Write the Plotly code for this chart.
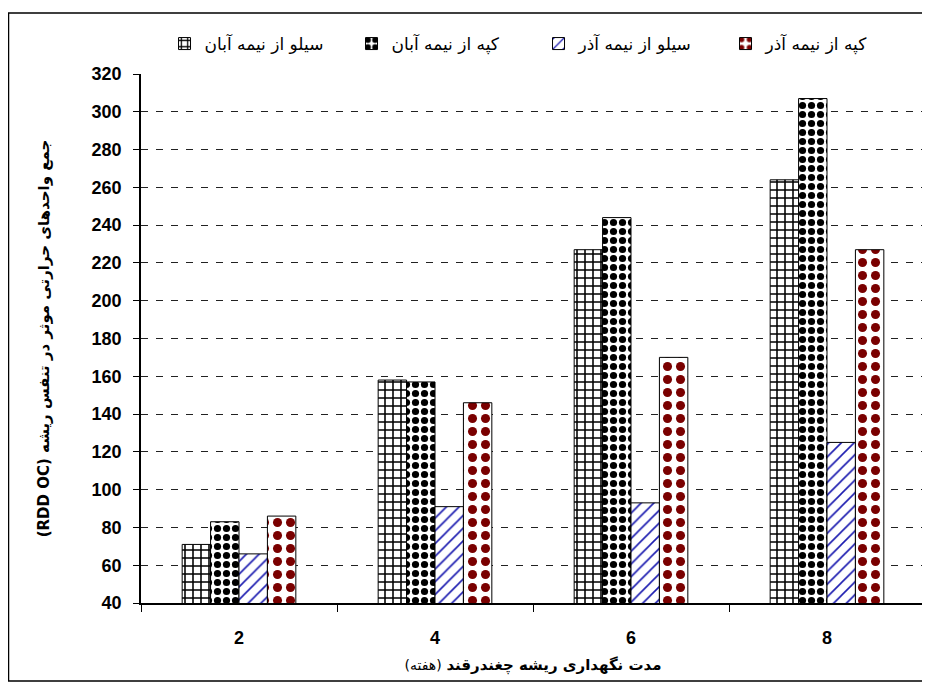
import plotly.graph_objects as go

weeks = ["2", "4", "6", "8"]
series_names = ["سیلو از نیمه آبان", "کپه از نیمه آبان", "سیلو از نیمه آذر", "کپه از نیمه آذر"]
silo_aban = [71, 158, 227, 264]
kapeh_aban = [83, 157, 244, 307]
silo_azar = [66, 91, 93, 125]
kapeh_azar = [86, 146, 170, 227]
y_ticks = list(range(40, 321, 20))

series_values = [silo_aban, kapeh_aban, silo_azar, kapeh_azar]
patterns = [
    dict(shape="+", fgcolor="black", bgcolor="white", size=8, solidity=0.35, fgopacity=1, fillmode="replace"),
    dict(shape=".", fgcolor="black", bgcolor="white", size=9, solidity=0.5, fgopacity=1, fillmode="replace"),
    dict(shape="/", fgcolor="#1c1cb0", bgcolor="white", size=9, solidity=0.18, fgopacity=1, fillmode="replace"),
    dict(shape=".", fgcolor="#7a0000", bgcolor="white", size=13, solidity=0.38, fgopacity=1, fillmode="replace"),
]

fig = go.Figure()
for name, vals, pat in zip(series_names, series_values, patterns):
    fig.add_trace(go.Bar(
        x=weeks, y=vals, name=name,
        marker=dict(color="white", pattern=pat, line=dict(color="black", width=1)),
    ))

fig.update_layout(
    width=930, height=682,
    barmode="group", bargap=0.42, bargroupgap=0,
    plot_bgcolor="white", paper_bgcolor="white",
    margin=dict(l=133, r=13, t=66, b=87),
    showlegend=True,
    legend=dict(
        orientation="h", traceorder="normal",
        x=0.03, xanchor="left", y=1.0567, yanchor="middle",
        font=dict(family="DejaVu Sans", size=17, color="black"),
        entrywidth=142,
        bgcolor="rgba(0,0,0,0)",
    ),
    font=dict(family="Liberation Sans", color="black"),
)

fig.update_yaxes(
    range=[40, 320], tickvals=y_ticks,
    showgrid=True, gridcolor="#222222", griddash="7px,8px", gridwidth=1,
    showline=True, linecolor="black", linewidth=1.5,
    ticks="outside", ticklen=6, tickcolor="black",
    tickfont=dict(family="Liberation Sans", size=18, weight="bold", color="black"),
    ticklabelstandoff=8,
    zeroline=False,
    title=dict(
        text="\u202Bجمع واحدهای حرارتی موثر در تنفس ریشه (RDD OC)\u202C",
        font=dict(family="DejaVu Sans", size=15, weight="bold", color="black"),
        standoff=38,
    ),
    automargin=False,
)

fig.update_xaxes(
    showline=True, linecolor="black", linewidth=1.5,
    ticks="outside", ticklen=7, tickcolor="black", tickson="boundaries",
    tickfont=dict(family="Liberation Sans", size=18, weight="bold", color="black"),
    ticklabelstandoff=18,
    title=dict(
        text='<b>مدت نگهداری ریشه چغندرقند</b> <span style="font-size:14px">(هفته)\u200F</span>',
        font=dict(family="DejaVu Sans", size=15, color="black"),
        standoff=12,
    ),
    automargin=False,
)

# outer chart frame
fig.add_shape(type="rect", xref="paper", yref="paper",
              x0=-0.169, x1=1.005, y0=-0.1474, y1=1.1153,
              line=dict(color="black", width=1.5), fillcolor="rgba(0,0,0,0)", layer="below")

fig.write_html("out.html")
